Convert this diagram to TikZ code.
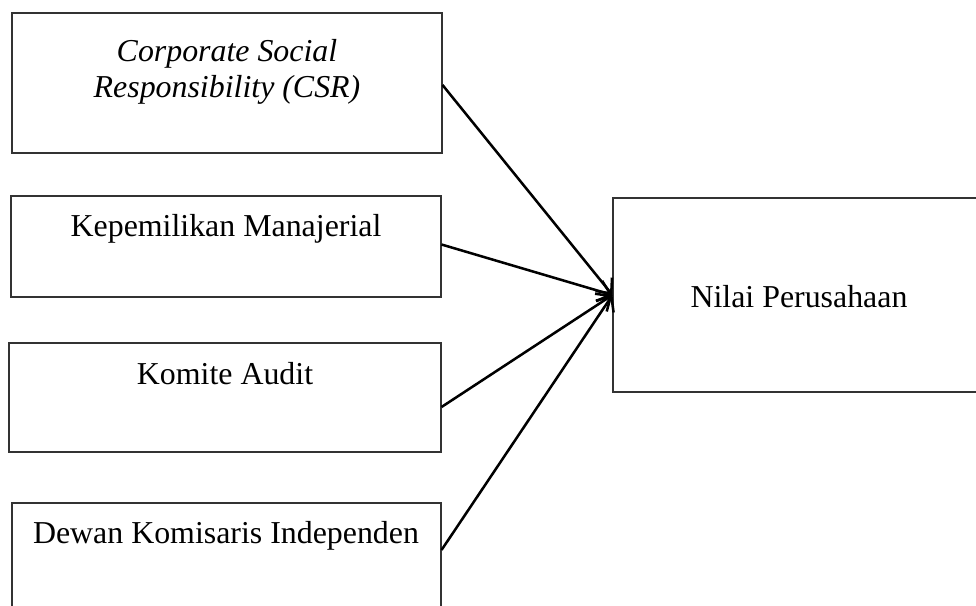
\documentclass[tikz,border=0pt]{standalone}
\usepackage{fontspec}
\setmainfont{Liberation Serif}
\usetikzlibrary{arrows.meta}

% one pixel of the layout
\def\px{0.3764pt}

\begin{document}
\begin{tikzpicture}[
    x=0.3764pt, y=-0.3764pt,
    var box/.style = {draw=black!80, line width=0.4pt, inner sep=0pt},
    var text/.style = {align=center, anchor=base, inner sep=0pt, font=\fontsize{12}{13.2}\selectfont},
    arrow/.style = {line width=0.95pt, -{Straight Barb[length=4.5pt, width=8pt]}}
]

% --- MARCO ---
\useasboundingbox (0,0) rectangle (976,606);
\clip (0,0) rectangle (976,606);

% Kotak variabel: \varbox{nama}{kiri}{atas}{kanan}{bawah}
\def\varbox#1#2#3#4#5{
    \node[var box, minimum width={(#4-#2)*\px}, minimum height={(#5-#3)*\px}]
        (#1) at ({(#2+#4)/2}, {(#3+#5)/2}) {};
}

% --- VARIABEL INDEPENDEN ---
\varbox{csr}{12}{13}{442}{153}
\varbox{km}{11}{196}{441}{297}
\varbox{ka}{9}{343}{441}{452}
\varbox{dki}{12}{503}{441}{613}

% baris terakhir duduk di titik base
\node[var text] (csr text) at (227, 97) {\textit{Corporate Social}\\ \textit{Responsibility (CSR)}};
\node[var text] (km text) at (226, 236) {Kepemilikan Manajerial};
\node[var text] (ka text) at (225, 384) {Komite Audit};
\node[var text] (dki text) at (226, 543) {Dewan Komisaris Independen};

% --- VARIABEL DEPENDEN ---
\varbox{nilai}{613}{198}{985}{392}
\node[var text] (nilai text) at (799, 307) {Nilai Perusahaan};

% --- PANAH ---
\foreach \src/\dy in {csr/-2, km/2, ka/-9.5, dki/8}
    \draw[arrow] ([yshift=\dy*\px]\src.east) -- (nilai.west);

\end{tikzpicture}
\end{document}
